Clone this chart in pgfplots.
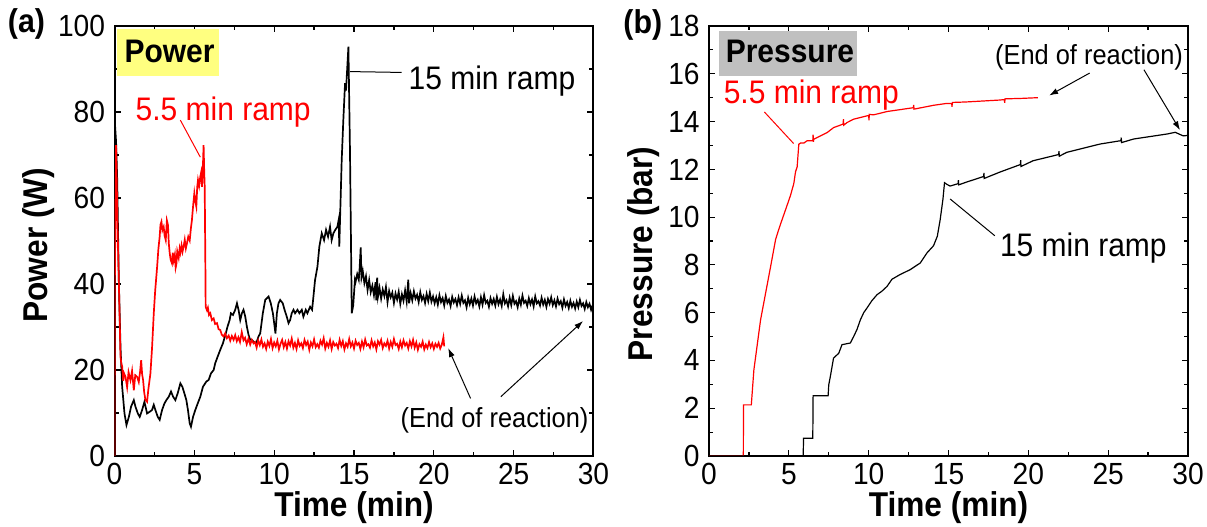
\documentclass[border=0pt]{standalone}
\usepackage{fontspec}
\setmainfont{Liberation Sans}[FakeStretch=0.92]
\usepackage{pgfplots}
\pgfplotsset{compat=1.18}
\usetikzlibrary{arrows.meta}
\definecolor{pyellow}{RGB}{255,255,128}
\definecolor{pgray}{RGB}{192,192,192}
\pgfplotsset{
 myax/.style={
  scale only axis, width=239.5bp, height=215bp, anchor=south west,
  xmin=0, xmax=30, xtick={0,5,...,30}, minor x tick num=1,
  /pgf/number format/assume math mode=true,
  tick label style={font=\fontsize{15.3bp}{18bp}\selectfont},
  yticklabel style={xshift=-1.2bp},
  major tick length=3bp, minor tick length=2bp,
  every tick/.style={black, line width=0.6bp},
  axis line style={line width=1bp},
  label style={font=\bfseries\fontsize{17.2bp}{20bp}\selectfont},
  xlabel style={at={(axis description cs:0.5,0)}, anchor=base, yshift=-30bp},
 },
}
\tikzset{
 ann/.style={font=\fontsize{16.3bp}{19bp}\selectfont, inner sep=0pt, anchor=base west},
 annsmall/.style={font=\fontsize{13.8bp}{16bp}\selectfont, inner sep=0pt, anchor=base west},
 arr/.style={line width=0.5bp, -{Latex[length=4.5bp,width=3bp]}},
}
\begin{document}
\begin{tikzpicture}
\path[use as bounding box] (0,0) rectangle (603.5bp,263.5bp);
% ---------------- (a) Power ----------------
\begin{axis}[myax, at={(57.25bp,35.5bp)},
  ymin=0, ymax=100, ytick={0,20,...,100}, minor y tick num=1,
  xlabel={Time (min)}, ylabel={Power (W)},
  ylabel style={at={(axis description cs:-0.1394,0.49)}, anchor=base}]
\fill[pyellow] (axis cs:0.16,99.2) rectangle (axis cs:6.55,88.3);
\node[font=\bfseries\fontsize{16.3bp}{19bp}\selectfont, inner sep=0pt, anchor=base] at (axis cs:3.45,91.5) {Power};
% 15 min ramp (black)
\addplot[black, line width=0.85bp] coordinates {
(0,0) (0.02,40) (0.04,76.6) (0.1,73) (0.17,64.2) (0.27,40.9) (0.375,25.4) (0.48,16.1)
(0.625,9.9) (0.75,7.2) (0.9,9.1) (1.04,11.5) (1.21,13.0) (1.31,11.5) (1.46,9.9) (1.58,9.1)
(1.73,10.7) (1.875,12.6) (2.04,9.9) (2.21,10.3) (2.35,10.7) (2.46,11.9) (2.56,10.7) (2.71,9.1)
(2.83,8.4) (2.98,10.7) (3.125,12.2) (3.25,13.0) (3.4,13.8) (3.54,15.0) (3.67,13.8) (3.81,13.0)
(3.96,14.6) (4.125,16.9) (4.25,16.1) (4.375,14.6) (4.5,13.0) (4.6,10.7) (4.71,7.6) (4.79,6.8)
(4.92,9.1) (5.06,10.7) (5.21,12.2) (5.375,13.8) (5.54,16.1) (5.75,17.3) (5.9,17.7) (6.04,19.2)
(6.21,20.0) (6.31,21.6) (6.46,23.1) (6.625,24.7) (6.79,26.2) (6.94,28.1) (7.08,30.1) (7.21,31.6)
(7.29,33.2) (7.42,32.8) (7.56,34.0) (7.67,35.5) (7.77,34.0) (7.875,31.6) (7.98,33.2) (8.08,34.0)
(8.19,32.4) (8.29,30.1) (8.4,28.1) (8.5,27.0) (8.6,27.0) (8.71,26.6) (8.875,26.2) (9.02,27.8)
(9.125,28.5) (9.29,33.2) (9.44,36.3) (9.65,37.1) (9.79,35.5) (9.92,33.2) (10.0,30.9) (10.08,28.5)
(10.17,33.2) (10.27,35.5) (10.375,36.3) (10.54,35.5) (10.65,34.0) (10.79,32.4) (10.9,30.9) (11.0,31.6)
(11.1,33.2) (11.21,34.0) (11.31,33.2) (11.46,34.0) (11.58,33.2) (11.73,34.0) (11.83,32.4) (11.98,34.0)
(12.08,33.2) (12.25,34.7) (12.375,34.0) (12.46,37.1) (12.56,40.9) (12.71,44.0) (12.83,48.7) (12.98,51.8)
(13.125,50.2) (13.25,52.6) (13.375,51.0) (13.5,53.3) (13.6,50.2) (13.71,51.8) (13.83,52.6) (13.96,53.3)
(14.04,54.9) (14.08,48.7) (14.125,54.9) (14.23,68.8) (14.33,78) (14.44,86.7) (14.5,85) (14.65,95.2)
(14.75,70.5) (14.86,33.2) (14.95,35) (15.06,41)
(15.1,40.5) (15.2,42.3) (15.3,41.0) (15.35,43.5) (15.42,48.5) (15.47,41.5) (15.55,43.0) (15.65,40.2)
(15.75,41.8) (15.85,38.6) (15.95,40.9) (16.05,38.1) (16.15,39.6) (16.25,37.4) (16.35,40.4) (16.4,36.2)
(16.45,41.5) (16.5,37.0) (16.6,39.1) (16.7,36.6) (16.8,38.7) (16.9,37.2) (17.0,39.3) (17.1,35.8)
(17.2,38.4) (17.3,36.9) (17.4,38.0) (17.5,35.6) (17.6,37.8) (17.7,36.4) (17.8,38.2) (17.9,35.4)
(18.0,37.6) (18.1,36.1) (18.2,38.5) (18.3,35.9) (18.4,41.0) (18.45,35.5) (18.55,37.9) (18.65,36.2)
(18.75,38.3) (18.85,36.6) (18.95,37.5) (19.05,35.8) (19.15,38.1) (19.25,36.3) (19.35,37.2) (19.45,35.6)
(19.55,37.7) (19.65,36.0) (19.75,38.0) (19.85,35.9) (19.95,37.1) (20.05,35.5) (20.15,36.9) (20.25,35.2)
(20.35,37.4) (20.45,35.8) (20.55,36.7) (20.65,35.0) (20.75,37.2) (20.85,35.6) (20.95,36.4) (21.05,34.9)
(21.15,37.0) (21.25,35.7) (21.35,36.5) (21.45,35.1) (21.55,36.9) (21.65,35.4) (21.75,37.3) (21.85,35.6)
(21.95,36.2) (22.05,34.6) (22.15,36.8) (22.25,35.3) (22.35,36.6) (22.45,35.0) (22.55,37.1) (22.65,35.5)
(22.75,36.3) (22.85,34.8) (22.95,36.9) (23.05,35.2) (23.15,37.4) (23.25,35.6) (23.35,36.1) (23.45,34.7)
(23.55,36.7) (23.65,35.4) (23.75,36.5) (23.85,35.0) (23.95,37.0) (24.05,35.3) (24.15,36.4) (24.25,34.9)
(24.35,37.6) (24.45,35.5) (24.55,36.2) (24.65,34.8) (24.75,36.8) (24.85,35.1) (24.95,37.2) (25.05,35.4)
(25.15,36.0) (25.25,34.6) (25.35,36.6) (25.45,35.2) (25.55,37.3) (25.65,35.6) (25.75,36.1) (25.85,34.9)
(25.95,36.7) (26.05,35.3) (26.15,36.4) (26.25,34.8) (26.35,37.1) (26.45,35.5) (26.55,36.0) (26.65,35.0)
(26.75,36.8) (26.85,35.2) (26.95,36.3) (27.05,34.7) (27.15,36.5) (27.25,35.4) (27.35,36.9) (27.45,35.1)
(27.55,36.2) (27.65,34.8) (27.75,36.6) (27.85,35.3) (27.95,36.0) (28.05,34.5) (28.15,36.4) (28.25,34.9)
(28.35,35.8) (28.45,34.4) (28.55,36.1) (28.65,34.7) (28.75,35.6) (28.85,34.3) (28.95,35.9) (29.05,34.6)
(29.15,36.3) (29.25,34.9) (29.35,35.5) (29.45,34.2) (29.55,35.8) (29.65,34.6) (29.75,35.4) (29.85,34.0)
(29.95,35.1)
};
% 5.5 min ramp (red)
\addplot[red, line width=0.85bp] coordinates {
(0,0) (0.02,40) (0.1,72.3) (0.18,55) (0.27,41.0) (0.375,23.1) (0.43,21.5) (0.48,20.8) (0.55,17.5)
(0.6,19.2) (0.69,18.4) (0.79,16.0) (0.88,19.5) (1.0,17.6) (1.1,19.8) (1.21,15.3) (1.3,18.8) (1.42,18.4)
(1.52,17.2) (1.6,19.5) (1.67,22.3) (1.73,19.0) (1.79,17.7) (1.86,14.8) (1.94,13.0) (2.04,12.6) (2.12,15.5)
(2.25,19.2) (2.35,25.0) (2.46,33.2) (2.55,38.5) (2.67,44.0) (2.75,48.2) (2.83,51.0) (2.88,53.8) (2.94,54.5)
(3.0,52.5) (3.08,53.3) (3.14,51.2) (3.21,50.2) (3.28,54.8) (3.35,53.7) (3.4,49.5) (3.46,47.1) (3.52,45.6)
(3.6,44.8) (3.65,47.3) (3.71,45.5) (3.78,46.8) (3.83,43.8) (3.875,44.6) (3.93,47.6) (4.02,46.1) (4.08,48.2)
(4.125,47.3) (4.2,49.0) (4.26,47.5) (4.33,48.7) (4.4,50.3) (4.47,48.3) (4.54,49.5) (4.62,51.0) (4.71,50.1)
(4.78,52.8) (4.85,54.9) (4.92,58.0) (5.0,61.1) (5.06,59.3) (5.125,58.0) (5.18,62.5) (5.23,64.2) (5.3,62.8)
(5.375,65.0) (5.43,66.0) (5.48,62.6) (5.53,66.5) (5.58,72.3) (5.62,66.0) (5.65,62.6) (5.69,45) (5.71,34.7)
(5.79,33.9) (5.85,34.5) (5.92,32.8) (6.0,33.2) (6.1,31.6) (6.21,32.0) (6.3,30.7) (6.42,30.9) (6.52,29.5)
(6.625,29.3) (6.72,28.2) (6.83,27.8) (6.93,28.5) (7.04,27.4) (7.15,28.0) (7.25,26.8) (7.35,27.9) (7.46,27.0)
(7.56,28.1) (7.66,26.7) (7.76,27.6) (7.86,26.5) (7.97,28.8) (8.08,26.9) (8.18,27.5) (8.28,26.0) (8.39,27.3)
(8.5,25.9) (8.6,27.0) (8.71,26.2)
(8.8,26.5) (8.9,25.2) (9.0,26.9) (9.1,25.8) (9.2,27.1) (9.3,25.4) (9.4,26.2) (9.5,24.9) (9.6,26.6)
(9.7,25.6) (9.8,27.2) (9.9,25.1) (10.0,26.4) (10.1,25.5) (10.2,26.8) (10.3,24.8) (10.4,26.1) (10.5,27.0)
(10.6,25.3) (10.7,26.5) (10.8,25.0) (10.9,26.7) (11.0,25.7) (11.1,27.3) (11.2,25.2) (11.3,26.3) (11.4,24.9)
(11.5,26.9) (11.6,25.6) (11.7,26.2) (11.8,25.1) (11.9,27.0) (12.0,25.8) (12.1,26.6) (12.2,24.7) (12.3,26.4)
(12.4,25.5) (12.5,27.1) (12.6,25.3) (12.7,26.0) (12.8,25.2) (12.9,26.8) (13.0,25.9) (13.1,27.4) (13.2,25.0)
(13.3,26.3) (13.4,25.4) (13.5,26.9) (13.6,24.9) (13.7,26.5) (13.8,25.7) (13.9,26.1) (14.0,25.1) (14.1,27.0)
(14.2,25.6) (14.3,26.7) (14.4,24.8) (14.5,26.2) (14.6,25.4) (14.7,27.2) (14.8,25.5) (14.9,26.4) (15.0,25.0)
(15.1,26.8) (15.2,25.8) (15.3,26.3) (15.4,24.9) (15.5,26.6) (15.6,25.3) (15.7,27.1) (15.8,25.7) (15.9,26.0)
(16.0,25.2) (16.1,26.9) (16.2,25.5) (16.3,26.4) (16.4,24.8) (16.5,26.7) (16.6,25.9) (16.7,27.0) (16.8,25.1)
(16.9,26.2) (17.0,25.6) (17.1,26.8) (17.2,25.0) (17.3,26.5) (17.4,25.4) (17.5,27.2) (17.6,25.8) (17.7,26.1)
(17.8,24.9) (17.9,26.6) (18.0,25.3) (18.1,26.9) (18.2,25.7) (18.3,26.3) (18.4,25.0) (18.5,26.7) (18.6,25.5)
(18.7,27.0) (18.8,25.2) (18.9,26.4) (19.0,24.7) (19.1,26.0) (19.2,25.4) (19.3,26.6) (19.4,24.8) (19.5,25.9)
(19.6,25.1) (19.7,26.5) (19.8,25.3) (19.9,26.2) (20.0,24.9) (20.1,26.1) (20.2,25.4) (20.3,26.3) (20.4,25.0)
(20.5,25.9) (20.6,27.6) (20.65,25.5)
};
\draw[black, line width=0.5bp] (axis cs:14.75,89.4) -- (axis cs:17.98,89.2);
\node[ann] at (axis cs:18.4,85.3) {15 min ramp};
\draw[red, line width=0.5bp] (axis cs:4.125,78.1) -- (axis cs:5.375,69.5);
\node[ann, text=red] at (axis cs:1.3,78.0) {5.5 min ramp};
\node[annsmall] at (axis cs:17.9,6.7) {(End of reaction)};
\draw[arr] (axis cs:22.3,13.4) -- (axis cs:20.9,25.1);
\draw[arr] (axis cs:24.2,13.8) -- (axis cs:29.35,31.4);
\end{axis}
\node[font=\bfseries\fontsize{16.5bp}{19bp}\selectfont, inner sep=0pt, anchor=base west] at (3.8bp,247.2bp) {(a)};
% ---------------- (b) Pressure ----------------
\begin{axis}[myax, at={(354.5bp,35.5bp)},
  ymin=0, ymax=18, ytick={0,2,...,18}, minor y tick num=1,
  xlabel={Time (min)}, ylabel={Pressure (bar)},
  ylabel style={at={(axis description cs:-0.119,0.47)}, anchor=base}]
\fill[pgray] (axis cs:0.65,17.77) rectangle (axis cs:9.25,15.9);
\node[font=\bfseries\fontsize{16.3bp}{19bp}\selectfont, inner sep=0pt, anchor=base] at (axis cs:5.07,16.47) {Pressure};
\addplot[red, line width=0.6bp] coordinates {
(0,0) (2.15,0) (2.16,2.14) (2.65,2.14) (2.81,3.6) (2.98,4.45) (3.23,5.7) (3.54,6.8) (3.85,7.9)
(4.17,9.06) (4.375,9.5) (4.58,9.9) (4.79,10.3) (5.1,10.9) (5.31,11.4) (5.42,11.9) (5.52,12.1)
(5.625,13.05) (5.73,13.1) (5.94,13.1) (6.15,13.2) (6.5,13.2) (6.52,13.45) (6.54,13.15) (6.56,13.26)
(6.98,13.4) (7.4,13.54) (7.81,13.75) (8.23,13.85) (8.4,13.9) (8.42,14.1) (8.44,13.85) (8.65,13.96)
(9.06,14.1) (9.48,14.17) (9.9,14.24) (10.0,14.25) (10.02,14.05) (10.04,14.3) (10.3,14.28) (10.73,14.35)
(11.15,14.42) (11.98,14.5) (12.8,14.58) (12.82,14.7) (12.84,14.52) (14.06,14.68) (14.9,14.76)
(15.2,14.75) (15.22,14.62) (15.24,14.8) (16.1,14.82) (18.2,14.9) (18.5,14.92) (18.52,14.78) (18.54,14.95)
(19.6,14.97) (20.6,15.0)
};
\addplot[black, line width=0.6bp] coordinates {
(0,0) (5.9,0) (5.92,0.74) (6.5,0.74) (6.52,2.52) (7.46,2.52) (7.5,2.98) (7.6,3.33) (7.8,4.1)
(8.125,4.3) (8.33,4.66) (8.85,4.73) (9.06,5.0) (9.27,5.3) (9.48,5.7) (9.69,6.0) (9.9,6.2) (10.2,6.5)
(10.52,6.75) (10.83,6.9) (11.15,7.1) (11.46,7.4) (11.98,7.6) (12.6,7.8) (13.23,8.08) (13.65,8.5)
(14.06,8.8) (14.3,9.2) (14.48,9.9) (14.65,10.74) (14.75,11.44) (14.9,11.37) (15.1,11.3)
(15.6,11.4) (15.62,11.55) (15.64,11.35) (16.1,11.46) (17.2,11.7) (17.22,11.85) (17.24,11.62)
(18.2,11.88) (19.5,12.2) (19.52,12.38) (19.54,12.12) (20.3,12.36) (21.9,12.62) (21.92,12.76) (21.94,12.55)
(22.4,12.71) (24.5,13.06) (25.8,13.2) (25.82,13.33) (25.84,13.12) (26.6,13.27) (28.7,13.48) (29.2,13.55)
(29.7,13.4) (30,13.42)
};
\draw[red, line width=0.5bp] (axis cs:3.47,14.4) -- (axis cs:5.3,13.08);
\node[ann, text=red] at (axis cs:0.9,14.77) {5.5 min ramp};
\draw[black, line width=0.5bp] (axis cs:15.1,10.76) -- (axis cs:17.9,9.22);
\node[ann] at (axis cs:18.2,8.37) {15 min ramp};
\node[annsmall] at (axis cs:17.9,16.38) {(End of reaction)};
\draw[arr] (axis cs:23.84,16.03) -- (axis cs:21.3,15.09);
\draw[arr] (axis cs:27.24,16.17) -- (axis cs:29.5,13.64);
\end{axis}
\node[font=\bfseries\fontsize{16.5bp}{19bp}\selectfont, inner sep=0pt, anchor=base west] at (311.5bp,246.7bp) {(b)};
\end{tikzpicture}
\end{document}
